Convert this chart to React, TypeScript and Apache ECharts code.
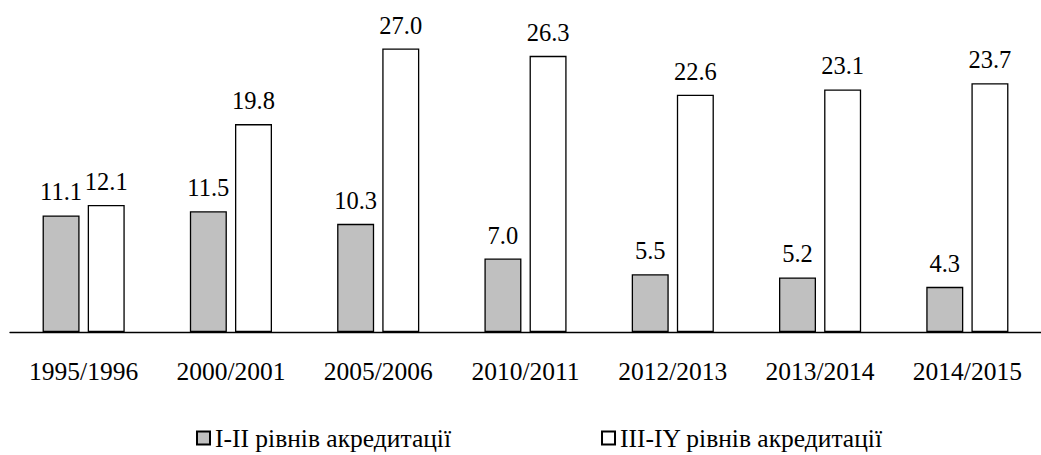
import React, { useEffect, useRef } from "react";
import * as echarts from "echarts";

const categories = ["1995/1996", "2000/2001", "2005/2006", "2010/2011", "2012/2013", "2013/2014", "2014/2015"];
const seriesNames = ["І-ІІ рівнів акредитації", "ІІІ-ІY рівнів акредитації"];
const levelsI_II = [11.1, 11.5, 10.3, 7.0, 5.5, 5.2, 4.3];
const levelsIII_IV = [12.1, 19.8, 27.0, 26.3, 22.6, 23.1, 23.7];

const FONT = "Liberation Serif";

export default function App() {
  const ref = useRef<HTMLDivElement>(null);
  useEffect(() => {
    document.body.style.margin = "0";
    const chart = echarts.init(ref.current!, null, { renderer: "svg" });
    const label = {
      show: true,
      position: "top" as const,
      distance: 11,
      fontFamily: FONT,
      fontSize: 24.5,
      color: "#000",
      formatter: (p: any) => Number(p.value).toFixed(1),
    };
    chart.setOption({
      animation: false,
      backgroundColor: "#fff",
      textStyle: { fontFamily: FONT },
      grid: { left: 10, right: 0, top: 17, bottom: 123 },
      legend: {
        left: 196,
        top: 425,
        padding: 0,
        icon: "rect",
        itemWidth: 13,
        itemHeight: 13,
        itemGap: 150,
        textStyle: { fontFamily: FONT, fontSize: 25.5, color: "#000", lineHeight: 26 },
        data: seriesNames,
      },
      xAxis: {
        type: "category",
        data: categories,
        axisLine: { lineStyle: { color: "#000", width: 1.3 } },
        axisTick: { length: 9, lineStyle: { color: "#000", width: 1.3 } },
        axisLabel: { color: "#000", fontSize: 25.5, fontFamily: FONT, margin: 26 },
      },
      yAxis: { type: "value", min: 0, max: 30, show: false, splitLine: { show: false } },
      series: [
        {
          name: seriesNames[0],
          type: "bar",
          data: levelsI_II,
          barWidth: 37,
          barGap: "22%",
          itemStyle: { color: "#C0C0C0", borderColor: "#000", borderWidth: 1.3 },
          label,
        },
        {
          name: seriesNames[1],
          type: "bar",
          data: levelsIII_IV,
          barWidth: 37,
          barGap: "22%",
          itemStyle: { color: "#FFFFFF", borderColor: "#000", borderWidth: 1.3 },
          label,
        },
      ],
    });
    return () => chart.dispose();
  }, []);
  return <div ref={ref} style={{ width: 1041, height: 455 }} />;
}
